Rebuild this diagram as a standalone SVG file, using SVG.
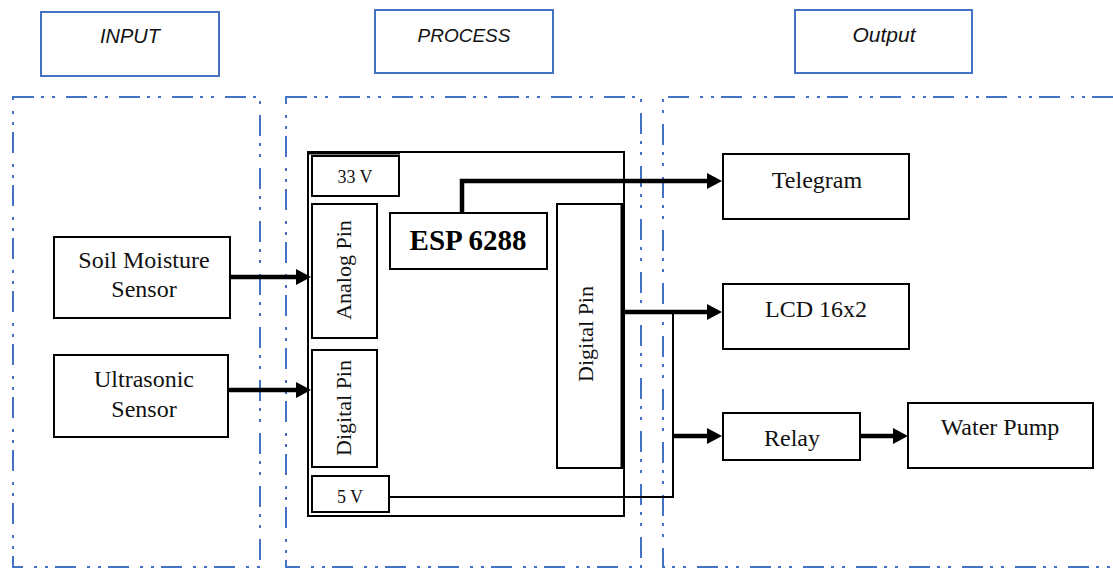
<svg xmlns="http://www.w3.org/2000/svg" width="1113" height="570" viewBox="0 0 1113 570">
<style>
.hdr{fill:#fff;stroke:#4472C4;stroke-width:2}
.region{fill:none;stroke:#4472C4;stroke-width:2;stroke-dasharray:21 7 3 8 3 11}
.hdrt{font-family:"Liberation Sans",Arial,sans-serif;font-style:italic;font-size:20px;fill:#111;text-anchor:middle}
.box{fill:#fff;stroke:#000;stroke-width:2}
.t{font-family:"Liberation Serif","Times New Roman",serif;font-size:24px;fill:#111;text-anchor:middle}
.s{font-family:"Liberation Serif","Times New Roman",serif;font-size:18px;fill:#111;text-anchor:middle}
.p{font-family:"Liberation Serif","Times New Roman",serif;font-size:22px;fill:#111;text-anchor:middle}
.b{font-family:"Liberation Serif","Times New Roman",serif;font-size:29px;font-weight:bold;fill:#000;text-anchor:middle}
.thick{fill:none;stroke:#000;stroke-width:4.5}
.thin{fill:none;stroke:#000;stroke-width:2}
</style>
<defs>
<marker id="ah" markerUnits="userSpaceOnUse" markerWidth="16" markerHeight="16" refX="0" refY="8" orient="auto" viewBox="0 0 16 16">
<path d="M0,0 L15,8 L0,16 z" fill="#000"/>
</marker>
</defs>

<g id="headers">
<g id="hdr-input"><rect class="hdr" x="41" y="12" width="178" height="64"/><text class="hdrt" x="130" y="43">INPUT</text></g>
<g id="hdr-process"><rect class="hdr" x="375" y="10" width="178" height="63"/><text class="hdrt" x="464" y="42" style="font-size:19px">PROCESS</text></g>
<g id="hdr-output"><rect class="hdr" x="795" y="10" width="177" height="63"/><text class="hdrt" x="884" y="42" style="font-size:21px">Output</text></g>
</g>

<g id="regions">
<rect class="region" x="13" y="97" width="247" height="470"/>
<rect class="region" x="286" y="97" width="355" height="470"/>
<path class="region" d="M1113,97 H663 V567 H1113"/>
</g>

<g id="esp-board">
<rect class="box" x="308" y="152" width="316" height="364"/>
<line x1="308" y1="153" x2="400" y2="153" stroke="#000" stroke-width="3"/>
</g>

<g id="v33"><rect class="box" x="312" y="156" width="87" height="40"/><text class="s" x="355" y="183">33 V</text></g>
<g id="analog-pin"><rect class="box" x="312" y="204" width="65" height="134"/><text class="p" transform="translate(351,270) rotate(-90)">Analog Pin</text></g>
<g id="digital-pin-left"><rect class="box" x="312" y="350" width="65" height="117"/><text class="p" transform="translate(351,408) rotate(-90)">Digital Pin</text></g>
<g id="v5"><rect class="box" x="312" y="476" width="77" height="36"/><text class="s" x="350" y="503">5 V</text></g>
<g id="esp"><rect class="box" x="390" y="213" width="157" height="56"/><text class="b" x="468" y="250">ESP 6288</text></g>
<g id="digital-pin-right"><rect class="box" x="557" y="204" width="65" height="264"/><line x1="622" y1="204" x2="622" y2="468" stroke="#000" stroke-width="3"/><text class="p" transform="translate(593,334) rotate(-90)">Digital Pin</text></g>

<g id="soil"><rect class="box" x="54" y="237" width="176" height="81"/><text class="t" x="144" y="268">Soil Moisture</text><text class="t" x="144" y="297">Sensor</text></g>
<g id="ultra"><rect class="box" x="54" y="355" width="174" height="82"/><text class="t" x="144" y="387">Ultrasonic</text><text class="t" x="144" y="417">Sensor</text></g>

<g id="telegram"><rect class="box" x="723" y="154" width="186" height="65"/><text class="t" x="817" y="188">Telegram</text></g>
<g id="lcd"><rect class="box" x="723" y="284" width="186" height="65"/><text class="t" x="816" y="317">LCD 16x2</text></g>
<g id="relay"><rect class="box" x="723" y="413" width="137" height="47"/><text class="t" x="792" y="446">Relay</text></g>
<g id="pump"><rect class="box" x="908" y="403" width="185" height="65"/><text class="t" x="1000" y="435">Water Pump</text></g>

<g id="connectors">
<path class="thick" d="M230,277 H296" marker-end="url(#ah)"/>
<path class="thick" d="M228,390 H296" marker-end="url(#ah)"/>
<path class="thick" d="M462,213 V181 H707" marker-end="url(#ah)"/>
<path class="thick" d="M622,312 H707" marker-end="url(#ah)"/>
<path class="thin" d="M673,312 V497 H389"/>
<path class="thick" d="M673,436 H707" marker-end="url(#ah)"/>
<path class="thick" d="M860,436 H893" marker-end="url(#ah)"/>
</g>
</svg>
